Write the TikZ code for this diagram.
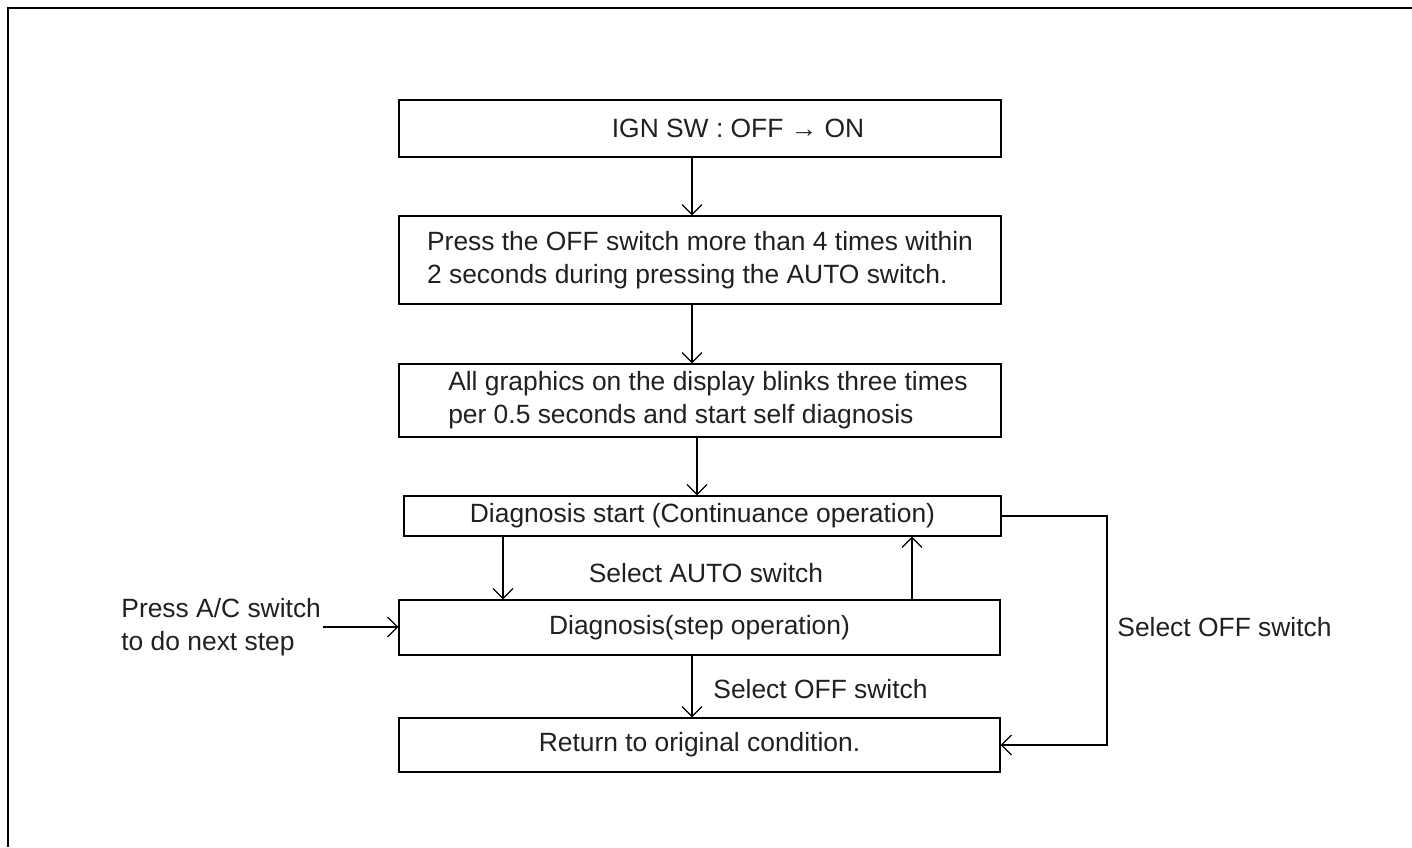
\documentclass[tikz,border=0pt]{standalone}
\usepackage{fontspec}
\setmainfont{Liberation Sans}
\usetikzlibrary{arrows.meta,positioning}
\definecolor{txtclr}{RGB}{35,31,32}
\newcommand{\flowfont}{\fontsize{13.2pt}{16.5pt}\selectfont}
\tikzset{
  % Rahmen
  frameline/.style = {line width=1pt, black},
  % Kaesten
  flowbox/.style   = {draw, line width=0.6pt, minimum width=301pt, inner sep=0pt,
                      align=left, font=\flowfont, text=txtclr},
  % Pfeile
  flowarrow/.style = {-{Straight Barb[length=5pt,width=10pt]}, line width=0.6pt},
  % Beschriftungen
  lab/.style       = {font=\flowfont, text=txtclr, inner sep=1pt, align=left},
}
\begin{document}
\begin{tikzpicture}[x=0.5pt, y=-0.5pt]
  \useasboundingbox (0,0) rectangle (1412,847);
  % Rahmen (links und oben)
  \draw[frameline] (8,847) -- (8,8) -- (1412,8);
  % Kaesten
  \node[flowbox, minimum height=28.5pt] (ign) at (700,128.5)
    {\hspace*{38pt}IGN SW : OFF → ON};
  \node[flowbox, minimum height=44pt] (press) at (700,260)
    {Press the OFF switch more than 4 times within\\
     2 seconds during pressing the AUTO switch.};
  \node[flowbox, minimum height=36.5pt] (blink) at (700,400.5)
    {\hspace*{8pt}All graphics on the display blinks three times\\
     \hspace*{8pt}per 0.5 seconds and start self diagnosis};
  \node[flowbox, minimum width=298.5pt, minimum height=20pt] (cont) at (702.5,516)
    {Diagnosis start (Continuance operation)};
  \node[flowbox, minimum width=300.5pt, minimum height=27.5pt] (step) at (699.5,627.5)
    {Diagnosis(step operation)};
  \node[flowbox, minimum width=300.5pt, minimum height=27pt] (ret) at (699.5,745)
    {Return to original condition.};
  % Hauptablauf
  \draw[flowarrow] ([xshift=-4pt]ign.south) -- ([xshift=-4pt]press.north);
  \draw[flowarrow] ([xshift=-4pt]press.south) -- ([xshift=-4pt]blink.north);
  \draw[flowarrow] ([xshift=-1.5pt]blink.south) -- ([xshift=-2.75pt]cont.north);
  % Umschalten zwischen den Diagnosearten
  \draw[flowarrow] ([xshift=-99.75pt]cont.south) -- ([xshift=-98.25pt]step.north);
  \draw[flowarrow] ([xshift=106.25pt]step.north) -- ([xshift=104.75pt]cont.south);
  \node[lab] (selauto) at (706,573) {Select AUTO switch};
  % Eingang links
  \node[lab, anchor=west] (acin) at (119,627) {Press A/C switch\\to do next step};
  \draw[flowarrow] (acin.east) -- (acin.east -| step.west);
  % Ende
  \draw[flowarrow] ([xshift=-3.75pt]step.south) -- ([xshift=-3.75pt]ret.north);
  \node[lab, anchor=west] (seloff) at (711,689) {Select OFF switch};
  % Rueckweg rechts
  \coordinate (loop) at (1107,516);
  \draw[flowarrow] (cont.east) -- (loop) |- (ret.east);
  \node[lab, anchor=west] (seloffr) at (1115,627) {Select OFF switch};
\end{tikzpicture}
\end{document}
